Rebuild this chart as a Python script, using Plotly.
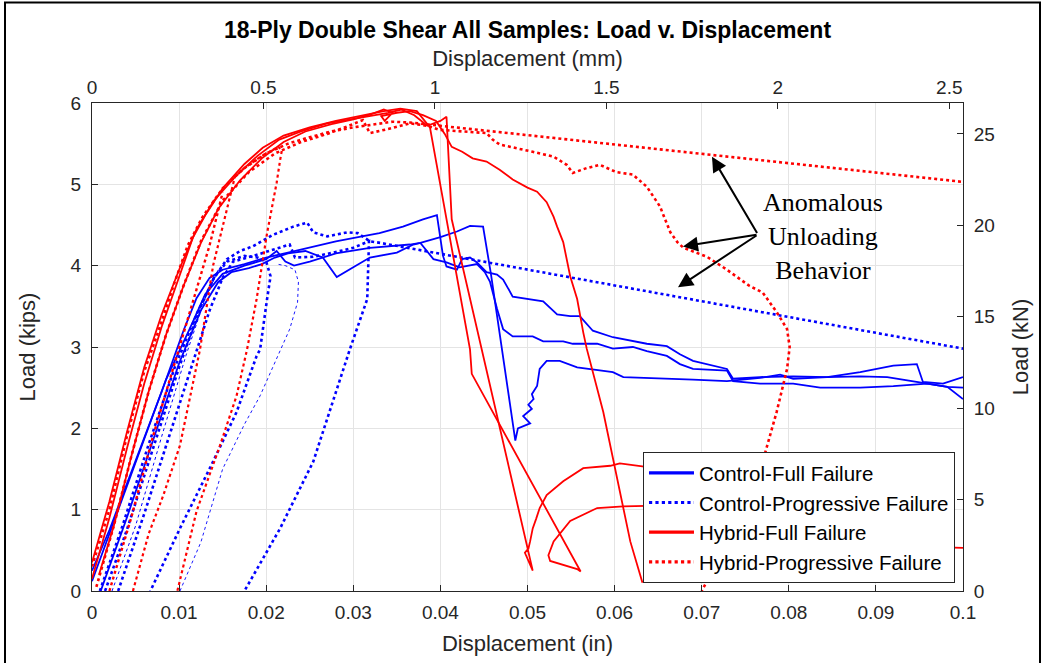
import plotly.graph_objects as go

# ---------------- axis tick data ----------------
X_TICKS_IN = [0, 0.01, 0.02, 0.03, 0.04, 0.05, 0.06, 0.07, 0.08, 0.09, 0.1]
X_TICK_LABELS_IN = ["0", "0.01", "0.02", "0.03", "0.04", "0.05", "0.06", "0.07", "0.08", "0.09", "0.1"]
X_TICKS_MM = [0, 0.5, 1, 1.5, 2, 2.5]
X_TICK_LABELS_MM = ["0", "0.5", "1", "1.5", "2", "2.5"]
Y_TICKS_KIPS = [0, 1, 2, 3, 4, 5, 6]
Y_TICK_LABELS_KIPS = ["0", "1", "2", "3", "4", "5", "6"]
Y_TICKS_KN = [0, 5, 10, 15, 20, 25]
Y_TICK_LABELS_KN = ["0", "5", "10", "15", "20", "25"]
IN_TO_MM = 25.4
KIP_TO_KN = 4.44822

# ---------------- Control - Full Failure (blue solid) ----------------
cf1_x = [0.0000, 0.0020, 0.0050, 0.0080, 0.0105, 0.0120, 0.0135, 0.0150, 0.0175, 0.0200, 0.0225, 0.0250, 0.0280, 0.0310, 0.0330, 0.0357, 0.0380, 0.0396, 0.0399, 0.0403, 0.0407, 0.0419, 0.0425, 0.0434, 0.0442, 0.0453, 0.0465, 0.0472, 0.0483, 0.0500, 0.0518, 0.0534, 0.0549, 0.0560, 0.0575, 0.0598, 0.0637, 0.0660, 0.0675, 0.0690, 0.0729, 0.0736, 0.0767, 0.0805, 0.0844, 0.0882, 0.0920, 0.0947, 0.0954, 0.0977, 0.1000]
cf1_y = [0.25, 0.75, 1.60, 2.45, 3.20, 3.60, 3.85, 3.95, 4.02, 4.10, 4.16, 4.22, 4.30, 4.36, 4.40, 4.48, 4.57, 4.62, 4.40, 4.12, 3.99, 3.95, 4.08, 4.10, 4.04, 3.92, 3.89, 3.83, 3.62, 3.59, 3.56, 3.40, 3.38, 3.38, 3.20, 3.12, 3.04, 3.01, 2.91, 2.83, 2.73, 2.61, 2.63, 2.64, 2.63, 2.69, 2.77, 2.79, 2.57, 2.55, 2.63]

cf2_x = [0.0000, 0.0025, 0.0055, 0.0085, 0.0112, 0.0130, 0.0150, 0.0175, 0.0200, 0.0212, 0.0222, 0.0232, 0.0250, 0.0280, 0.0319, 0.0342, 0.0365, 0.0377, 0.0400, 0.0419, 0.0434, 0.0449, 0.0452, 0.0458, 0.0486, 0.0489, 0.0503, 0.0495, 0.0505, 0.0501, 0.0507, 0.0505, 0.0511, 0.0514, 0.0522, 0.0537, 0.0557, 0.0598, 0.0610, 0.0637, 0.0675, 0.0690, 0.0729, 0.0767, 0.0790, 0.0805, 0.0844, 0.0882, 0.0913, 0.0951, 0.0982, 0.1000]
cf2_y = [0.12, 0.85, 1.75, 2.60, 3.22, 3.65, 3.90, 4.00, 4.08, 4.18, 4.05, 4.00, 4.05, 4.15, 4.22, 4.24, 4.26, 4.28, 4.35, 4.42, 4.49, 4.48, 4.30, 3.90, 1.85, 2.00, 2.06, 2.15, 2.24, 2.29, 2.36, 2.42, 2.52, 2.73, 2.83, 2.83, 2.75, 2.69, 2.63, 2.62, 2.61, 2.60, 2.58, 2.62, 2.66, 2.61, 2.63, 2.64, 2.63, 2.56, 2.51, 2.36]

cf3_x = [0.0010, 0.0040, 0.0070, 0.0100, 0.0125, 0.0145, 0.0160, 0.0180, 0.0195, 0.0210, 0.0225, 0.0245, 0.0265, 0.0281, 0.0300, 0.0319, 0.0350, 0.0369, 0.0377, 0.0388, 0.0392, 0.0407, 0.0422, 0.0442, 0.0451, 0.0457, 0.0465, 0.0472, 0.0483, 0.0506, 0.0518, 0.0541, 0.0552, 0.0580, 0.0598, 0.0621, 0.0637, 0.0660, 0.0675, 0.0690, 0.0729, 0.0736, 0.0767, 0.0805, 0.0836, 0.0882, 0.0920, 0.0959, 0.0982, 0.1000]
cf3_y = [0.00, 0.90, 1.85, 2.80, 3.45, 3.80, 3.92, 3.97, 4.02, 4.10, 4.15, 4.18, 4.10, 3.86, 3.98, 4.10, 4.16, 4.26, 4.28, 4.14, 4.08, 4.04, 3.98, 4.02, 3.92, 3.80, 3.47, 3.22, 3.13, 3.13, 3.07, 3.07, 3.04, 3.04, 2.98, 3.00, 2.95, 2.89, 2.79, 2.73, 2.71, 2.58, 2.55, 2.55, 2.50, 2.50, 2.52, 2.55, 2.51, 2.50]

# ---------------- Control - Progressive Failure (blue dotted) ----------------
cp1_x = [0.0015, 0.0040, 0.0070, 0.0100, 0.0125, 0.0140, 0.0155, 0.0170, 0.0185, 0.0208, 0.0231, 0.0247, 0.0254, 0.0270, 0.0293, 0.0305, 0.0319, 0.0331, 0.1000]
cp1_y = [0.00, 0.75, 1.75, 2.75, 3.50, 3.85, 4.08, 4.18, 4.24, 4.38, 4.48, 4.53, 4.41, 4.36, 4.41, 4.40, 4.30, 4.28, 2.98]

cp2_x = [0.0030, 0.0060, 0.0090, 0.0115, 0.0135, 0.0150, 0.0162, 0.0185, 0.0208, 0.0227, 0.0233, 0.0254, 0.0277, 0.0300, 0.0318, 0.0317, 0.0316, 0.0296, 0.0285, 0.0254, 0.0216, 0.0175]
cp2_y = [0.00, 0.95, 1.95, 2.80, 3.45, 3.85, 4.05, 4.12, 4.20, 4.26, 4.10, 4.11, 4.16, 4.22, 4.30, 4.00, 3.59, 2.97, 2.61, 1.59, 0.77, 0.00]

cp3_x = [0.0009, 0.0035, 0.0065, 0.0095, 0.0120, 0.0140, 0.0155, 0.0175, 0.0190, 0.0200, 0.0205, 0.0201, 0.0193, 0.0189, 0.0166, 0.0139, 0.0101, 0.0067]
cp3_y = [0.00, 0.80, 1.80, 2.75, 3.40, 3.85, 4.05, 4.12, 4.10, 4.05, 3.87, 3.59, 2.97, 2.89, 2.20, 1.59, 0.77, 0.00]

ct1_x = [0.0101, 0.0125, 0.0150, 0.0175, 0.0193, 0.0212, 0.0227, 0.0236, 0.0237, 0.0233, 0.0222, 0.0212]
ct1_y = [0.00, 0.60, 1.50, 2.05, 2.40, 2.85, 3.22, 3.55, 3.80, 3.95, 4.00, 4.02]

ct2_x = [0.0023, 0.0050, 0.0080, 0.0108, 0.0130, 0.0145]
ct2_y = [0.00, 0.80, 1.90, 2.90, 3.60, 3.95]

# ---------------- Hybrid - Full Failure (red solid) ----------------
hf1_x = [0.0000, 0.0020, 0.0040, 0.0060, 0.0080, 0.0100, 0.0116, 0.0130, 0.0150, 0.0175, 0.0196, 0.0220, 0.0250, 0.0280, 0.0310, 0.0335, 0.0354, 0.0373, 0.0388, 0.0434, 0.0436, 0.0561, 0.0557, 0.0526, 0.0524, 0.0530, 0.0549, 0.0580, 0.0610, 0.0650, 0.0750, 0.0850, 0.0930, 0.1000]
hf1_y = [0.15, 0.90, 1.75, 2.55, 3.25, 3.85, 4.35, 4.62, 4.95, 5.25, 5.45, 5.60, 5.70, 5.78, 5.85, 5.90, 5.93, 5.90, 5.70, 2.97, 2.67, 0.24, 0.27, 0.37, 0.44, 0.61, 0.86, 1.02, 1.04, 1.05, 0.95, 0.75, 0.55, 0.53]

hf2_x = [0.0000, 0.0020, 0.0040, 0.0060, 0.0080, 0.0100, 0.0120, 0.0140, 0.0165, 0.0190, 0.0215, 0.0240, 0.0270, 0.0300, 0.0325, 0.0340, 0.0355, 0.0370, 0.0385, 0.0400, 0.0407, 0.0413, 0.0442, 0.0506, 0.0497, 0.0501, 0.0503, 0.0506, 0.0510, 0.0514, 0.0522, 0.0541, 0.0564, 0.0595, 0.0606, 0.0634]
hf2_y = [0.35, 1.10, 1.95, 2.75, 3.40, 3.95, 4.45, 4.80, 5.10, 5.35, 5.55, 5.65, 5.75, 5.80, 5.85, 5.88, 5.92, 5.85, 5.72, 5.78, 5.83, 4.57, 3.22, 0.25, 0.47, 0.52, 0.61, 0.77, 0.89, 1.02, 1.18, 1.35, 1.51, 1.54, 1.57, 1.53]

hf3_x = [0.0008, 0.0025, 0.0045, 0.0065, 0.0085, 0.0105, 0.0125, 0.0145, 0.0170, 0.0195, 0.0220, 0.0245, 0.0275, 0.0300, 0.0320, 0.0335, 0.0345, 0.0336, 0.0332, 0.0350, 0.0365, 0.0380, 0.0395, 0.0405, 0.0413, 0.0425, 0.0437, 0.0453, 0.0468, 0.0483, 0.0500, 0.0511, 0.0522, 0.0530, 0.0534, 0.0541, 0.0549, 0.0557, 0.0564, 0.0568, 0.0587, 0.0618, 0.0632]
hf3_y = [0.20, 0.80, 1.65, 2.45, 3.15, 3.75, 4.28, 4.70, 5.05, 5.32, 5.52, 5.65, 5.74, 5.80, 5.86, 5.92, 5.88, 5.78, 5.84, 5.88, 5.90, 5.85, 5.78, 5.62, 5.46, 5.40, 5.32, 5.28, 5.18, 5.06, 4.96, 4.91, 4.78, 4.60, 4.48, 4.29, 3.87, 3.59, 3.18, 2.98, 2.20, 0.61, 0.10]

# ---------------- Hybrid - Progressive Failure (red dotted) ----------------
rp1_x = [0.0000, 0.0020, 0.0040, 0.0060, 0.0078, 0.0095, 0.0110, 0.0127, 0.0150, 0.0175, 0.0200, 0.0225, 0.0250, 0.0275, 0.0300, 0.0325, 0.0345, 0.0365, 0.1000]
rp1_y = [0.30, 1.00, 1.90, 2.70, 3.25, 3.80, 4.25, 4.60, 4.95, 5.20, 5.38, 5.50, 5.58, 5.65, 5.70, 5.74, 5.77, 5.76, 5.03]

rp2_x = [0.0005, 0.0025, 0.0045, 0.0065, 0.0085, 0.0105, 0.0125, 0.0150, 0.0180, 0.0210, 0.0240, 0.0270, 0.0295, 0.0311, 0.0319, 0.0340, 0.0365, 0.0385, 0.0399, 0.0453, 0.0460, 0.0468, 0.0506, 0.0530, 0.0545, 0.0552, 0.0568, 0.0583, 0.0602, 0.0621, 0.0637, 0.0652, 0.0664, 0.0672, 0.0679, 0.0706, 0.0729, 0.0744, 0.0755, 0.0770, 0.0786, 0.0798, 0.0801, 0.0798, 0.0786, 0.0770, 0.0759, 0.0735, 0.0706, 0.0700]
rp2_y = [0.05, 0.80, 1.65, 2.45, 3.15, 3.75, 4.30, 4.80, 5.15, 5.38, 5.52, 5.62, 5.72, 5.79, 5.63, 5.68, 5.75, 5.72, 5.67, 5.63, 5.55, 5.49, 5.40, 5.34, 5.24, 5.14, 5.20, 5.24, 5.15, 5.12, 4.97, 4.73, 4.41, 4.29, 4.22, 4.11, 3.95, 3.83, 3.75, 3.67, 3.43, 3.22, 3.00, 2.73, 2.20, 1.59, 0.98, 0.50, 0.12, 0.00]

rp3_x = [0.0047, 0.0065, 0.0082, 0.0101, 0.0124, 0.0139, 0.0150, 0.0158, 0.0164, 0.0175, 0.0195, 0.0214, 0.0218, 0.0216, 0.0212, 0.0201, 0.0189, 0.0178, 0.0166, 0.0147, 0.0120, 0.0098]
rp3_y = [0.00, 0.70, 1.18, 1.79, 2.97, 4.00, 4.48, 4.81, 5.09, 5.20, 5.35, 5.46, 5.42, 5.30, 5.02, 4.40, 3.59, 2.97, 2.40, 1.79, 0.98, 0.00]

rp4_x = [0.0020, 0.0045, 0.0070, 0.0095, 0.0115, 0.0135, 0.0150]
rp4_y = [0.00, 0.90, 1.90, 2.80, 3.55, 4.25, 4.90]

CURVES = [
    ("Control-Full Failure", cf1_x, cf1_y, 1.8),
    ("Control-Full Failure", cf2_x, cf2_y, 1.8),
    ("Control-Full Failure", cf3_x, cf3_y, 1.8),
    ("Control-Progressive Failure", cp1_x, cp1_y, 2.6),
    ("Control-Progressive Failure", cp2_x, cp2_y, 2.6),
    ("Control-Progressive Failure", cp3_x, cp3_y, 2.6),
    ("Control-Progressive Failure", ct1_x, ct1_y, 0.9),
    ("Control-Progressive Failure", ct2_x, ct2_y, 1.0),
    ("Hybrid-Full Failure", hf1_x, hf1_y, 1.8),
    ("Hybrid-Full Failure", hf2_x, hf2_y, 1.8),
    ("Hybrid-Full Failure", hf3_x, hf3_y, 1.8),
    ("Hybrid-Progressive Failure", rp1_x, rp1_y, 2.6),
    ("Hybrid-Progressive Failure", rp2_x, rp2_y, 2.6),
    ("Hybrid-Progressive Failure", rp3_x, rp3_y, 2.2),
    ("Hybrid-Progressive Failure", rp4_x, rp4_y, 2.4),
]

STYLE = {
    "Control-Full Failure": ("#0000FF", "solid"),
    "Control-Progressive Failure": ("#0000FF", "dot"),
    "Hybrid-Full Failure": ("#FF0000", "solid"),
    "Hybrid-Progressive Failure": ("#FF0000", "dot"),
}
LEGEND_ORDER = ["Control-Full Failure", "Control-Progressive Failure", "Hybrid-Full Failure", "Hybrid-Progressive Failure"]

fig = go.Figure()
for name, xs, ys, w in CURVES:
    color, dash = STYLE[name]
    fig.add_trace(go.Scatter(x=xs, y=ys, mode="lines", legendgroup=name, name=name, showlegend=False,
                             line=dict(color=color, dash=dash, width=w), hoverinfo="skip"))

# legend-only entries (thicker sample lines)
for name in LEGEND_ORDER:
    color, dash = STYLE[name]
    fig.add_trace(go.Scatter(x=[None], y=[None], mode="lines", legendgroup=name, name=name, showlegend=True,
                             line=dict(color=color, dash=dash, width=3.2)))

# secondary (mm / kN) axes carrier
fig.add_trace(go.Scatter(x=[None], y=[None], xaxis="x2", yaxis="y2", showlegend=False, hoverinfo="skip"))

AX = "#262626"
GRID = "#e4e4e4"
TICKF = dict(family="Arial, Liberation Sans", size=19, color=AX)
TITLEF = dict(family="Arial, Liberation Sans", size=22, color=AX)

fig.update_layout(
    width=1052, height=663,
    margin=dict(l=92, r=89, t=103, b=70),
    paper_bgcolor="white", plot_bgcolor="white",
    title=dict(text="<b>18-Ply Double Shear All Samples: Load v. Displacement</b>",
               x=0.5, xref="paper", xanchor="center", y=1 - 30 / 663, yref="container", yanchor="middle",
               font=dict(family="Arial, Liberation Sans", size=23, color="#000000")),
    xaxis=dict(range=[0, 0.1], tickvals=X_TICKS_IN, ticktext=X_TICK_LABELS_IN, ticks="inside", ticklen=6,
               tickcolor=AX, showline=True, linecolor=AX, linewidth=1, mirror=True, showgrid=True,
               gridcolor=GRID, zeroline=False, tickfont=TICKF, ticklabelstandoff=4,
               title=dict(text="Displacement (in)", font=TITLEF, standoff=13)),
    xaxis2=dict(range=[0, 0.1 * IN_TO_MM], overlaying="x", side="top", tickvals=X_TICKS_MM,
                ticktext=X_TICK_LABELS_MM, ticks="inside", ticklen=6, tickcolor=AX, showline=True,
                linecolor=AX, showgrid=False, zeroline=False, tickfont=TICKF, ticklabelstandoff=0,
                title=dict(text="Displacement (mm)", font=TITLEF, standoff=4)),
    yaxis=dict(range=[0, 6], tickvals=Y_TICKS_KIPS, ticktext=Y_TICK_LABELS_KIPS, ticks="inside", ticklen=6,
               tickcolor=AX, showline=True, linecolor=AX, linewidth=1, mirror=True, showgrid=True,
               gridcolor=GRID, zeroline=False, tickfont=TICKF, ticklabelstandoff=6,
               title=dict(text="Load (kips)", font=TITLEF, standoff=28)),
    yaxis2=dict(range=[0, 6 * KIP_TO_KN], overlaying="y", side="right", tickvals=Y_TICKS_KN,
                ticktext=Y_TICK_LABELS_KN, ticks="inside", ticklen=6, tickcolor=AX, showline=True,
                linecolor=AX, showgrid=False, zeroline=False, tickfont=TICKF, ticklabelstandoff=6,
                title=dict(text="Load (kN)", font=TITLEF, standoff=18)),
    legend=dict(x=0.9908, y=0.0163, xanchor="right", yanchor="bottom", bgcolor="white",
                bordercolor=AX, borderwidth=1, font=dict(family="Arial, Liberation Sans", size=20.5, color="#000000"),
                tracegroupgap=0, itemwidth=45),
    showlegend=True,
)

# annotation text and arrows
NOTE_TEXT = "Anomalous<br>Unloading<br>Behavior"
NOTE_POS = (0.0839, 4.36)
ARROW_TAIL = (0.07646, 4.383)
ARROW_HEADS = [(0.07118, 5.339), (0.06785, 4.237), (0.06728, 3.735)]

fig.add_annotation(x=NOTE_POS[0], y=NOTE_POS[1], xref="x", yref="y", text=NOTE_TEXT, showarrow=False,
                   font=dict(family="Liberation Serif, Times New Roman", size=26, color="#000000"),
                   align="center", xanchor="center", yanchor="middle")
for hx, hy in ARROW_HEADS:
    fig.add_annotation(x=hx, y=hy, xref="x", yref="y", ax=ARROW_TAIL[0], ay=ARROW_TAIL[1], axref="x", ayref="y",
                       text="", showarrow=True, arrowhead=2, arrowsize=1.5, arrowwidth=2, arrowcolor="#000000")

# outer figure frame
fig.add_shape(type="rect", xref="paper", yref="paper", x0=(5 - 92) / 871, x1=(1040 - 92) / 871,
              y0=-0.3, y1=(593 - 2) / 490, line=dict(color="#000000", width=2), fillcolor="rgba(0,0,0,0)")

fig.write_html("out.html", config={"displayModeBar": False},
               post_script="document.body.style.margin='0px';")
